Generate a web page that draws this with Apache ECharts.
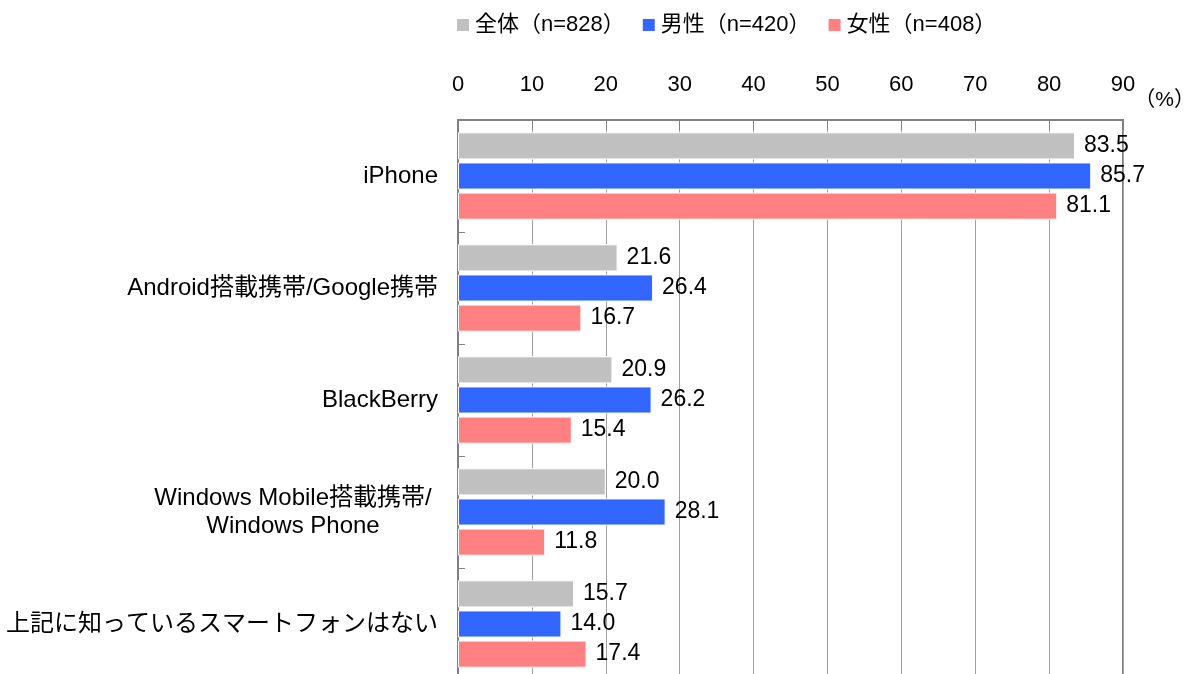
<!DOCTYPE html>
<html>
<head>
<meta charset="utf-8">
<script src="https://cdn.jsdelivr.net/npm/echarts@6/dist/echarts.min.js"></script>
<style>
  html, body { margin: 0; padding: 0; background: #fff; overflow: hidden; }
  /* taller than the window so the bottom border falls outside the picture */
  #chart { width: 1197px; height: 680px; }
</style>
</head>
<body>
<div id="chart"></div>
<script>
// smartphone awareness (%)
var categories = [
  'iPhone',
  'Android搭載携帯/Google携帯',
  'BlackBerry',
  'Windows Mobile搭載携帯/\nWindows Phone',
  '上記に知っているスマートフォンはない'
];
var seriesNames = ['全体（n=828）', '男性（n=420）', '女性（n=408）'];
var allValues = [83.5, 21.6, 20.9, 20.0, 15.7];
var maleValues = [85.7, 26.4, 26.2, 28.1, 14.0];
var femaleValues = [81.1, 16.7, 15.4, 11.8, 17.4];
var colors = ['#c0c0c0', '#3366ff', '#ff8080'];
var xTicks = [0, 90, 10];

var FONT = '"Liberation Sans", "Noto Sans CJK JP", sans-serif';

function makeSeries(name, data, color) {
  return {
    name: name,
    type: 'bar',
    data: data,
    barGap: '11%',
    barCategoryGap: '22%',
    itemStyle: { color: color, borderColor: '#fff', borderWidth: 1 },
    label: {
      show: true,
      position: 'right',
      distance: 9,
      color: '#000',
      fontSize: 23,
      fontFamily: FONT,
      formatter: function (p) { return p.value.toFixed(1); }
    }
  };
}

var chart = echarts.init(document.getElementById('chart'));
chart.setOption({
  animation: false,
  textStyle: { fontFamily: FONT },
  color: colors,
  legend: {
    top: 9,
    left: 450,
    icon: 'rect',
    itemWidth: 14,
    itemHeight: 14,
    itemGap: 16,
    textStyle: { fontSize: 22, color: '#000', fontFamily: FONT }
  },
  grid: {
    left: 458,
    right: 74,
    top: 120,
    bottom: 0,
    show: true,
    borderColor: '#808080',
    borderWidth: 2
  },
  graphic: [{
    type: 'text',
    right: 2,
    top: 90,
    style: { text: '（%）', fontSize: 21, fill: '#000', fontFamily: FONT }
  }],
  xAxis: {
    type: 'value',
    position: 'top',
    min: xTicks[0],
    max: xTicks[1],
    interval: xTicks[2],
    axisLine: { show: true, lineStyle: { color: '#808080', width: 2 } },
    axisTick: { show: true, inside: true, length: 10, lineStyle: { color: '#808080' } },
    axisLabel: { fontSize: 22, color: '#000', margin: 24 },
    splitLine: { show: true, lineStyle: { color: '#a0a0a0', width: 1 } }
  },
  yAxis: {
    type: 'category',
    inverse: true,
    data: categories,
    axisLine: { show: true, lineStyle: { color: '#808080', width: 2 } },
    axisTick: { show: true, inside: true, length: 7, lineStyle: { color: '#808080' } },
    axisLabel: {
      fontSize: 24,
      color: '#000',
      margin: 20,
      formatter: function (v) {
        if (v.indexOf('\n') >= 0) {
          return v.split('\n').map(function (s) { return '{w|' + s + '}'; }).join('\n');
        }
        return v;
      },
      rich: {
        w: { width: 290, align: 'center', fontSize: 24, lineHeight: 28 }
      }
    }
  },
  series: [
    makeSeries(seriesNames[0], allValues, colors[0]),
    makeSeries(seriesNames[1], maleValues, colors[1]),
    makeSeries(seriesNames[2], femaleValues, colors[2])
  ]
});
</script>
</body>
</html>
